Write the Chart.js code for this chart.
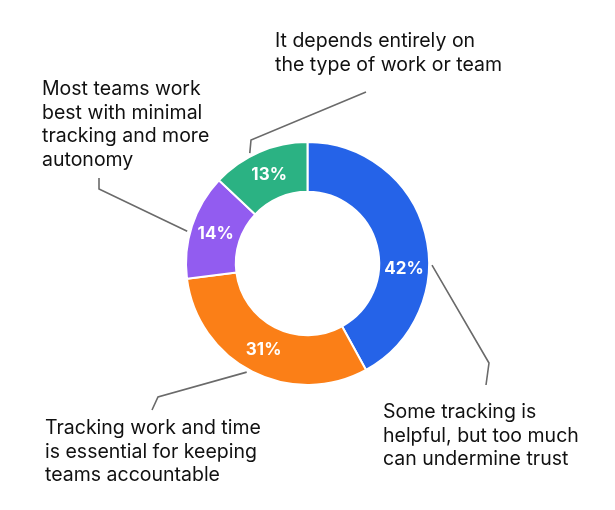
<!DOCTYPE html>
<html>
<head>
<meta charset="utf-8">
<script src="https://cdn.jsdelivr.net/npm/chart.js@4.4.1/dist/chart.umd.min.js"></script>
<style>
    html, body { margin: 0; padding: 0; background: #fff; }
    #wrap { width: 615px; height: 510px; position: relative; }
</style>
</head>
<body>
<div id="wrap"><canvas id="pollChart"></canvas></div>
<script>
// =======================
// DATA
// =======================
const answers = [
    ["Some tracking is", "helpful, but too much", "can undermine trust"],
    ["Tracking work and time", "is essential for keeping", "teams accountable"],
    ["Most teams work", "best with minimal", "tracking and more", "autonomy"],
    ["It depends entirely on", "the type of work or team"]
];
const shares = [42, 31, 14, 13];
const sliceColors = ["#2563e8", "#fb7f17", "#925cf0", "#2bb283"];

// =======================
// CALLOUT LAYOUT
// =======================
// where on each arc the % label sits (0 = start of slice, 1 = end)
const labelAt = [0.615, 0.5, 0.5, 0.5];
// where the leader line leaves the ring
const leaderAt = [0.6, 0.52, 0.44, 0.41];
// bend and end of each leader line, then text block origin
const callouts = [
    { bend: [489, 363], end: [486, 385], text: [383, 412] },
    { bend: [158, 397], end: [152, 410], text: [45, 428] },
    { bend: [99, 189], end: [99, 178], text: [42, 89] },
    { bend: [251, 140], end: [366, 92], text: [275, 41] }
];
const lineHeight = 23.8;

const calloutPlugin = {
    id: "callouts",
    afterDatasetsDraw(chart) {
        const ctx = chart.ctx;
        const meta = chart.getDatasetMeta(0);

        meta.data.forEach((arc, i) => {
            const p = arc.getProps(["x", "y", "startAngle", "endAngle", "innerRadius", "outerRadius"], true);
            const span = p.endAngle - p.startAngle;

            // percent label
            const a = p.startAngle + span * labelAt[i];
            const r = (p.innerRadius + p.outerRadius) / 2;
            ctx.save();
            ctx.fillStyle = "#ffffff";
            ctx.font = "700 17px Inter";
            ctx.textAlign = "center";
            ctx.textBaseline = "middle";
            ctx.fillText(shares[i] + "%", p.x + Math.cos(a) * r, p.y + Math.sin(a) * r);
            ctx.restore();

            // leader line
            const c = callouts[i];
            const la = p.startAngle + span * leaderAt[i];
            const lr = p.outerRadius + 3;
            ctx.save();
            ctx.strokeStyle = "#6a6a6a";
            ctx.lineWidth = 1.6;
            ctx.beginPath();
            ctx.moveTo(p.x + Math.cos(la) * lr, p.y + Math.sin(la) * lr);
            ctx.lineTo(c.bend[0], c.bend[1]);
            ctx.lineTo(c.end[0], c.end[1]);
            ctx.stroke();
            ctx.restore();

            // answer text
            ctx.save();
            ctx.fillStyle = "#111111";
            ctx.font = "400 19.5px Inter";
            ctx.textAlign = "left";
            ctx.textBaseline = "middle";
            answers[i].forEach((line, k) => {
                ctx.fillText(line, c.text[0], c.text[1] + k * lineHeight);
            });
            ctx.restore();
        });
    }
};

// =======================
// CHART
// =======================
const ctx = document.getElementById("pollChart").getContext("2d");

new Chart(ctx, {
    type: "doughnut",
    data: {
        labels: answers.map(a => a.join(" ")),
        datasets: [{
            data: shares,
            backgroundColor: sliceColors,
            borderColor: "#ffffff",
            borderWidth: 2
        }]
    },
    options: {
        responsive: true,
        maintainAspectRatio: false,
        animation: false,
        cutout: "59%",
        layout: {
            padding: { left: 185, right: 185, top: 141, bottom: 124 }
        },
        plugins: {
            legend: { display: false },
            tooltip: { enabled: false }
        }
    },
    plugins: [calloutPlugin]
});
</script>
</body>
</html>
